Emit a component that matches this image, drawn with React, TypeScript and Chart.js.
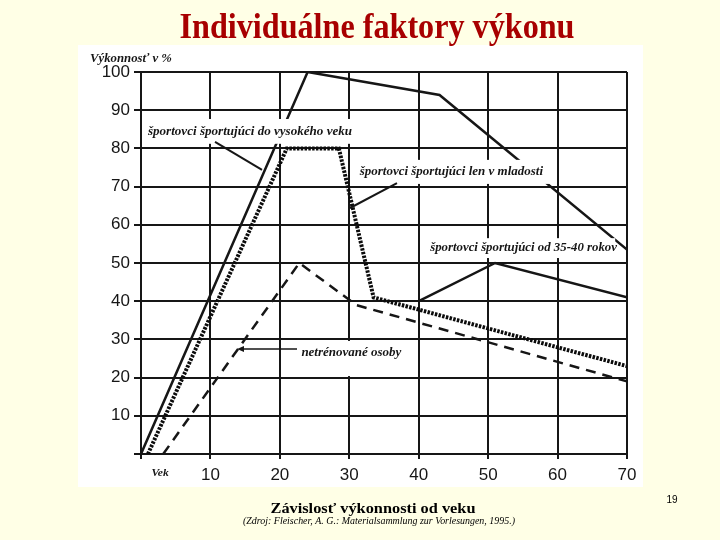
import React, { useEffect, useRef } from "react";
import { Chart, registerables } from "chart.js";

Chart.register(...registerables);

// ---- data (age in years, performance in %) ----
const highAgeAges = [0, 24, 43, 70];
const highAgeValues = [0, 100, 94, 53.5];
const youthAges = [1, 21, 28.5, 33.5, 70];
const youthValues = [0, 80, 80, 41, 23];
const untrainedAges = [3.2, 22.8, 31, 70];
const untrainedValues = [0, 50, 39, 19];
const lateAges = [40, 51, 70];
const lateValues = [40, 50, 41];

const xTickValues = [10, 20, 30, 40, 50, 60, 70];
const yTickValues = [10, 20, 30, 40, 50, 60, 70, 80, 90, 100];

const titleText = "Individuálne faktory výkonu";
const captionText = "Závislosť výkonnosti od veku";
const sourceText = "(Zdroj: Fleischer, A. G.: Materialsammlung zur Vorlesungen, 1995.)";
const pageNumber = "19";
const yAxisTitle = "Výkonnosť v %";
const xAxisTitle = "Vek";

// annotation labels: text, centre (age, %), width in age units, white box [x0, x1, y0, y1]
const annotationTexts = [
  "športovci športujúci do vysokého veku",
  "športovci športujúci len v mladosti",
  "športovci športujúci od 35-40 rokov",
  "netrénované osoby",
];
const annotationCentres = [
  [15.7, 84.3],
  [44.7, 73.8],
  [55.1, 53.9],
  [30.3, 26.6],
];
const annotationWidths = [29.4, 26.4, 26.9, 14.4];
const annotationBoxes = [
  [0.6, 31.0, 87.7, 81.2],
  [30.8, 58.9, 77.0, 70.7],
  [40.9, 68.3, 56.5, 51.3],
  [22.5, 38.0, 29.6, 20.4],
];
const leaderLines = [
  [10.66, 81.7, 17.43, 74.35],
  [30.1, 64.4, 36.87, 70.94],
];
const arrowLine = [22.47, 27.5, 13.83, 27.5];

const INK = "#161616";
const SERIF = "'Liberation Serif', 'Times New Roman', serif";
const SANS = "'Liberation Sans', Arial, sans-serif";

function toPoints(xs: number[], ys: number[]) {
  return xs.map((x, i) => ({ x, y: ys[i] }));
}

function drawScaledText(
  ctx: CanvasRenderingContext2D,
  text: string,
  font: string,
  cx: number,
  cy: number,
  width: number,
  color: string
) {
  ctx.save();
  ctx.font = font;
  const w = ctx.measureText(text).width;
  const s = width > 0 ? width / w : 1;
  ctx.translate(cx, cy);
  ctx.scale(s, 1);
  ctx.textAlign = "center";
  ctx.textBaseline = "middle";
  ctx.fillStyle = color;
  ctx.fillText(text, 0, 0);
  ctx.restore();
}

const backgroundPlugin = {
  id: "slideBackground",
  beforeDraw(chart: any) {
    const ctx = chart.ctx as CanvasRenderingContext2D;
    ctx.save();
    ctx.fillStyle = "#FFFFE6";
    ctx.fillRect(0, 0, chart.width, chart.height);
    ctx.fillStyle = "#FFFFFF";
    ctx.fillRect(78, 45, 565, 442);
    ctx.restore();
  },
};

const annotationPlugin = {
  id: "annotations",
  afterDatasetsDraw(chart: any) {
    const ctx = chart.ctx as CanvasRenderingContext2D;
    const xs = chart.scales.x;
    const ys = chart.scales.y;
    const px = (v: number) => xs.getPixelForValue(v);
    const py = (v: number) => ys.getPixelForValue(v);
    const unitW = px(1) - px(0);

    ctx.save();
    // white boxes behind labels
    ctx.fillStyle = "#FFFFFF";
    annotationBoxes.forEach((b) => {
      const x0 = px(b[0]);
      const x1 = px(b[1]);
      const y0 = py(b[2]);
      const y1 = py(b[3]);
      ctx.fillRect(x0, y0, x1 - x0, y1 - y0);
    });
    // leader lines
    ctx.strokeStyle = INK;
    ctx.lineWidth = 2;
    leaderLines.forEach((l) => {
      ctx.beginPath();
      ctx.moveTo(px(l[0]), py(l[1]));
      ctx.lineTo(px(l[2]), py(l[3]));
      ctx.stroke();
    });
    // arrow
    const ax0 = px(arrowLine[0]);
    const ay0 = py(arrowLine[1]);
    const ax1 = px(arrowLine[2]);
    const ay1 = py(arrowLine[3]);
    ctx.lineWidth = 1.6;
    ctx.beginPath();
    ctx.moveTo(ax0, ay0);
    ctx.lineTo(ax1 + 3, ay1);
    ctx.stroke();
    ctx.fillStyle = INK;
    ctx.beginPath();
    ctx.moveTo(ax1, ay1);
    ctx.lineTo(ax1 + 7, ay1 - 3);
    ctx.lineTo(ax1 + 7, ay1 + 3);
    ctx.closePath();
    ctx.fill();
    ctx.restore();

    // label texts
    annotationTexts.forEach((t, i) => {
      drawScaledText(
        ctx,
        t,
        `italic bold 13px ${SERIF}`,
        px(annotationCentres[i][0]),
        py(annotationCentres[i][1]),
        annotationWidths[i] * unitW,
        INK
      );
    });
    // axis titles
    drawScaledText(ctx, yAxisTitle, `italic bold 12px ${SERIF}`, px(-1.44), py(103.3), 11.8 * unitW, INK);
    drawScaledText(ctx, xAxisTitle, `italic bold 11px ${SERIF}`, px(2.75), py(-5.0), 2.5 * unitW, INK);
  },
  afterDraw(chart: any) {
    const ctx = chart.ctx as CanvasRenderingContext2D;
    drawScaledText(ctx, titleText, `bold 36px ${SERIF}`, 377, 29, 395, "#A80000");
    drawScaledText(ctx, captionText, `bold 15px ${SERIF}`, 373, 509, 205, "#000000");
    drawScaledText(ctx, sourceText, `italic 10px ${SERIF}`, 379, 521, 272, "#000000");
    drawScaledText(ctx, pageNumber, `10px ${SANS}`, 672, 500, 0, "#000000");
  },
};

export default function App() {
  const canvasRef = useRef<HTMLCanvasElement | null>(null);

  useEffect(() => {
    if (!canvasRef.current) return;
    const chart = new Chart(canvasRef.current, {
      type: "line",
      data: {
        datasets: [
          {
            label: "športovci športujúci do vysokého veku",
            data: toPoints(highAgeAges, highAgeValues),
            borderColor: INK,
            borderWidth: 2.5,
            pointRadius: 0,
            tension: 0,
          },
          {
            label: "športovci športujúci len v mladosti",
            data: toPoints(youthAges, youthValues),
            borderColor: "#0c0c0c",
            borderWidth: 4,
            borderDash: [2.5, 1.3],
            pointRadius: 0,
            tension: 0,
          },
          {
            label: "netrénované osoby",
            data: toPoints(untrainedAges, untrainedValues),
            borderColor: INK,
            borderWidth: 2.5,
            borderDash: [10, 7],
            pointRadius: 0,
            tension: 0,
          },
          {
            label: "športovci športujúci od 35-40 rokov",
            data: toPoints(lateAges, lateValues),
            borderColor: INK,
            borderWidth: 2.5,
            pointRadius: 0,
            tension: 0,
          },
        ],
      },
      options: {
        responsive: false,
        animation: false,
        events: [],
        layout: { padding: { left: 81, right: 93, top: 72, bottom: 46 } },
        plugins: {
          legend: { display: false },
          title: { display: false },
          tooltip: { enabled: false },
        },
        scales: {
          x: {
            type: "linear",
            min: 0,
            max: 70,
            afterFit: (s: any) => {
              s.height = 40;
            },
            afterBuildTicks: (s: any) => {
              s.ticks = [0, ...xTickValues].map((v) => ({ value: v }));
            },
            ticks: {
              autoSkip: false,
              maxRotation: 0,
              padding: 6,
              color: INK,
              font: { family: SANS, size: 17 },
              callback: (v: any) => (v === 0 ? "" : String(v)),
            },
            grid: { color: INK, lineWidth: 2, tickLength: 5 },
            border: { display: true, color: INK, width: 2 },
          },
          y: {
            type: "linear",
            min: 0,
            max: 100,
            afterFit: (s: any) => {
              s.width = 60;
            },
            afterBuildTicks: (s: any) => {
              s.ticks = [0, ...yTickValues].map((v) => ({ value: v }));
            },
            ticks: {
              autoSkip: false,
              padding: 4,
              color: INK,
              font: { family: SANS, size: 17 },
              callback: (v: any) => (v === 0 ? "" : String(v)),
            },
            grid: { color: INK, lineWidth: 2, tickLength: 7 },
            border: { display: true, color: INK, width: 2 },
          },
        },
      },
      plugins: [backgroundPlugin, annotationPlugin],
    } as any);
    return () => chart.destroy();
  }, []);

  return (
    <div style={{ position: "absolute", left: 0, top: 0, width: 720, height: 540 }}>
      <canvas ref={canvasRef} width={720} height={540} style={{ display: "block", width: 720, height: 540 }} />
    </div>
  );
}
